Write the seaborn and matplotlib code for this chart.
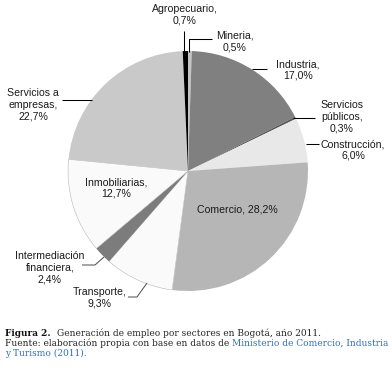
import matplotlib
matplotlib.use("Agg")
import matplotlib.pyplot as plt
import seaborn as sns

# data, clockwise from 12 o'clock
sectors = ["Mineria", "Industria", "Servicios\npúblicos", "Construcción", "Comercio",
           "Transporte", "Intermediación\nfinanciera", "Inmobiliarias",
           "Servicios a\nempresas", "Agropecuario"]
shares = [0.5, 17.0, 0.3, 6.0, 28.2, 9.3, 2.4, 12.7, 22.7, 0.7]
colors = ["#c4c4c4", "#808080", "#5a5a5a", "#e8e8e8", "#b6b6b6",
          "#fafafa", "#7c7c7c", "#fafafa", "#c9c9c9", "#000000"]
explode = [0, 0, 0, 0, 0, 0, 0.07, 0, 0, 0]

sns.set_style("white")
plt.rcParams['font.family'] = ['Liberation Sans', 'DejaVu Sans']

W, H = 392, 368
fig = plt.figure(figsize=(W / 100, H / 100), dpi=100)
ax = fig.add_axes([0, 0, 1, 1])

wedges, _ = ax.pie(shares, colors=colors, startangle=90, counterclock=False,
                   explode=explode, center=(188, H - 171), radius=120,
                   wedgeprops=dict(linewidth=0))
# faint outline on the near-white slices
for i in (5, 7):
    wedges[i].set_edgecolor("#b8b8b8")
    wedges[i].set_linewidth(0.4)
ax.set_xlim(0, W)
ax.set_ylim(0, H)
ax.set_aspect("equal")
ax.axis("off")


def pct(v):
    return f"{v:.1f}".replace(".", ",") + "%"


# label block centres (pixels from top-left) and leader paths
label_pos = {
    "Agropecuario": (185, 15),
    "Mineria": (235, 41.5),
    "Industria": (298, 70),
    "Servicios\npúblicos": (342, 117),
    "Construcción": (353, 150),
    "Servicios a\nempresas": (33, 105),
    "Inmobiliarias": (116, 188),
    "Comercio": (237, 210),
    "Intermediación\nfinanciera": (50, 267.5),
    "Transporte": (100, 297.5),
}
leaders = {
    "Agropecuario": [(184.5, 31), (184.5, 52)],
    "Mineria": [(212, 39), (189.5, 39), (189.5, 52)],
    "Industria": [(252, 69), (267, 69)],
    "Servicios\npúblicos": [(293, 118), (315, 118)],
    "Construcción": [(306, 144), (319, 144)],
    "Servicios a\nempresas": [(62, 100), (92, 100)],
    "Intermediación\nfinanciera": [(82, 265), (95, 265), (104, 257)],
    "Transporte": [(128, 297), (137, 297), (147, 283)],
}

for name, v in zip(sectors, shares):
    x, y = label_pos[name]
    sep = " " if name == "Comercio" else "\n"
    ax.text(x, H - y, f"{name},{sep}{pct(v)}", ha="center", va="center",
            multialignment="center", fontsize=7.6, color="#1a1a1a", linespacing=1.2)
    if name in leaders:
        pts = leaders[name]
        lc = "#555555" if name in ("Transporte", "Intermediación\nfinanciera") else "black"
        ax.plot([p[0] for p in pts], [H - p[1] for p in pts], color=lc, lw=0.75,
                solid_capstyle="butt")

# caption
renderer = fig.canvas.get_renderer()
serif = ['DejaVu Serif']
blue = "#2f6fb8"


def caption_line(x, y, parts):
    for s, kw in parts:
        gap = kw.pop("gap", 0)
        t = fig.text(x / W, 1 - y / H, s, va="baseline", ha="left",
                     family=serif, fontsize=6.5, **kw)
        x = t.get_window_extent(renderer=renderer).x1 + gap


caption_line(5, 336, [("Figura 2.", dict(weight="bold", color="#111111", gap=6)),
                      ("Generación de empleo por sectores en Bogotá, año 2011.",
                       dict(color="#222222"))])
caption_line(5, 346, [("Fuente: elaboración propia con base en datos de",
                       dict(color="#222222", gap=3)),
                      ("Ministerio de Comercio, Industria", dict(color=blue))])
caption_line(5, 356.5, [("y Turismo (2011).", dict(color=blue))])

fig.savefig("out.png", dpi=100)
